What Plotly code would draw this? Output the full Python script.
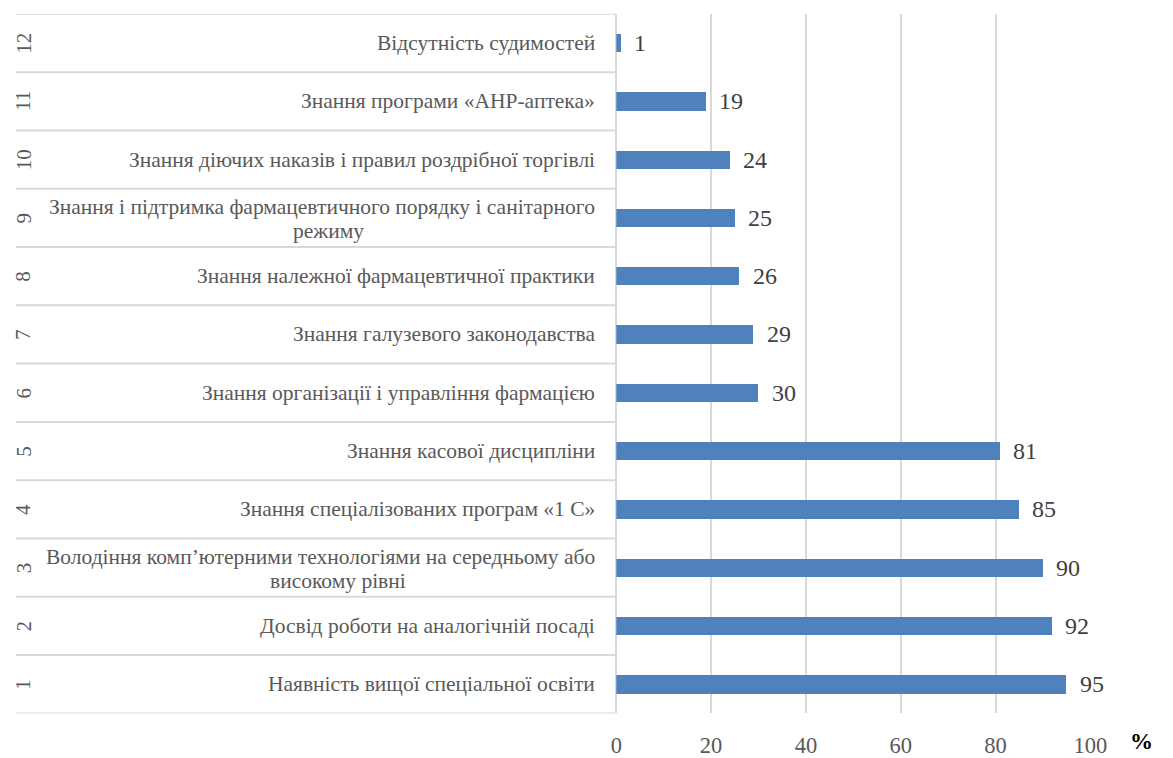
import plotly.graph_objects as go

# Row numbers (bottom to top), requirement names and the share of respondents, %
row_numbers = [1, 2, 3, 4, 5, 6, 7, 8, 9, 10, 11, 12]
requirements = [
    ["Наявність вищої спеціальної освіти"],
    ["Досвід роботи на аналогічній посаді"],
    ["Володіння комп’ютерними технологіями на середньому або", "високому рівні"],
    ["Знання спеціалізованих програм «1 С»"],
    ["Знання касової дисципліни"],
    ["Знання організації і управління фармацією"],
    ["Знання галузевого законодавства"],
    ["Знання належної фармацевтичної практики"],
    ["Знання і підтримка фармацевтичного порядку і санітарного", "режиму"],
    ["Знання діючих наказів і правил роздрібної торгівлі"],
    ["Знання програми «АНР-аптека»"],
    ["Відсутність судимостей"],
]
shares = [95, 92, 90, 85, 81, 30, 29, 26, 25, 24, 19, 1]
x_ticks = [0, 20, 40, 60, 80, 100]

W, H = 1173, 758
FONT = "Liberation Serif"
GRID = "#d9d9d9"
BAR = "#4f81bd"
LABEL_SIZE = 21.5

x0_px, x1_px = 622.5, 1106
top_px, bot_px = 14, 721
label_right = 603


def text_width(s, size):
    # rough advance width of a Times-like face
    return len(s) * size * 0.455


fig = go.Figure()
fig.add_trace(go.Bar(
    x=shares, y=row_numbers, orientation="h",
    marker=dict(color=BAR, line=dict(width=0)),
    width=0.314, hoverinfo="skip",
))

annotations = []
# value labels to the right of each bar
for n, v in zip(row_numbers, shares):
    annotations.append(dict(
        x=v, y=n, xref="x", yref="y", text=str(v), showarrow=False,
        xanchor="left", yanchor="middle", xshift=11,
        font=dict(family=FONT, size=24, color="#404040"),
    ))

# two-level category labels: rotated row number and requirement text
label_font = dict(family=FONT, size=LABEL_SIZE, color="#595959")
for n, lines in zip(row_numbers, requirements):
    if len(lines) == 1:
        annotations.append(dict(
            x=label_right / W, y=n, xref="paper", yref="y", text=lines[0],
            showarrow=False, xanchor="right", yanchor="middle", font=label_font,
        ))
    else:
        first, second = lines
        annotations.append(dict(
            x=label_right / W, y=n, xref="paper", yref="y", text=first,
            showarrow=False, xanchor="right", yanchor="middle", yshift=11,
            font=label_font,
        ))
        centre = label_right - text_width(first, LABEL_SIZE) / 2
        annotations.append(dict(
            x=centre / W, y=n, xref="paper", yref="y", text=second,
            showarrow=False, xanchor="center", yanchor="middle", yshift=-13,
            font=label_font,
        ))
    annotations.append(dict(
        x=18 / W, y=n, xref="paper", yref="y", text=str(n), showarrow=False,
        xanchor="center", yanchor="middle", textangle=-90,
        font=dict(family=FONT, size=21, color="#595959"),
    ))

# axis unit
annotations.append(dict(
    x=1158 / W, y=(H - 749) / H, xref="paper", yref="paper", text="<b>%</b>",
    showarrow=False, xanchor="center", yanchor="middle",
    font=dict(family=FONT, size=23, color="#000000"),
))

# horizontal separators between the category rows
shapes = []
for b in [n - 0.5 for n in row_numbers] + [row_numbers[-1] + 0.5]:
    shapes.append(dict(
        type="line", xref="paper", yref="y", x0=10 / W, x1=x0_px / W, y0=b, y1=b,
        line=dict(color=GRID, width=2),
    ))

fig.update_layout(
    width=W, height=H,
    margin=dict(l=0, r=0, t=0, b=0),
    paper_bgcolor="white", plot_bgcolor="white",
    showlegend=False,
    annotations=annotations,
    shapes=shapes,
    bargap=0,
    font=dict(family=FONT),
    xaxis=dict(
        domain=[x0_px / W, x1_px / W], range=[0, 100],
        tickvals=x_ticks, ticktext=[str(t) for t in x_ticks],
        showgrid=True, gridcolor=GRID, gridwidth=2,
        zeroline=True, zerolinecolor=GRID, zerolinewidth=2,
        showline=False, ticks="", ticklabelstandoff=16,
        tickfont=dict(family=FONT, size=22.5, color="#595959"),
        fixedrange=True,
    ),
    yaxis=dict(
        domain=[(H - bot_px) / H, (H - top_px) / H], range=[0.5, 12.5],
        showticklabels=False, showgrid=False, zeroline=False, showline=False,
        fixedrange=True,
    ),
)

fig.write_html("out.html", config={"displayModeBar": False})
